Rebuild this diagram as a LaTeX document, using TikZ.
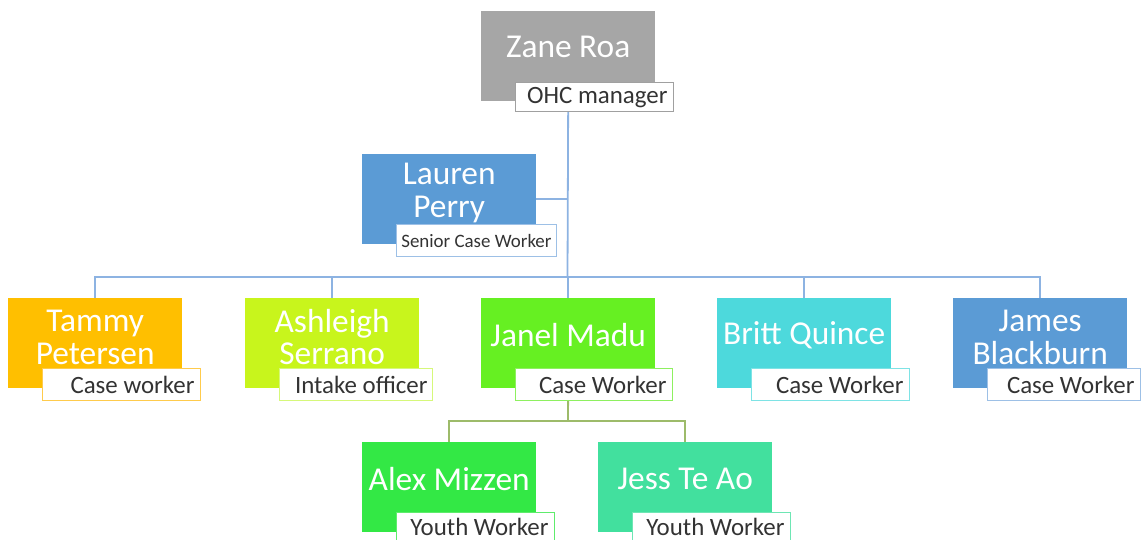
\documentclass[tikz,border=0pt]{standalone}
\usepackage{fontspec}
\setmainfont{Carlito}
\usetikzlibrary{calc,backgrounds}
\definecolor{cZane}{HTML}{A6A6A6}
\definecolor{cZaneB}{HTML}{A0A0A0}
\definecolor{cBlue}{HTML}{5B9BD5}
\definecolor{cBlueB}{HTML}{9DC0E6}
\definecolor{cTammy}{HTML}{FFBF00}
\definecolor{cTammyB}{HTML}{FFCB4C}
\definecolor{cAsh}{HTML}{C8F51C}
\definecolor{cAshB}{HTML}{D6F87A}
\definecolor{cJanel}{HTML}{66F022}
\definecolor{cJanelB}{HTML}{8EF060}
\definecolor{cBritt}{HTML}{4DD9DC}
\definecolor{cBrittB}{HTML}{7EE3E5}
\definecolor{cAlex}{HTML}{33E845}
\definecolor{cAlexB}{HTML}{5EEC6C}
\definecolor{cJess}{HTML}{42E09E}
\definecolor{cJessB}{HTML}{6EE6B4}
\definecolor{cText}{HTML}{333333}
\definecolor{cLine}{HTML}{8DB3E2}
\definecolor{cSub}{HTML}{9DBB6A}
\def\lblw{146bp}
\tikzset{
  lblw/.store in=\lblw,
  pbox/.style={rectangle, anchor=north west, minimum width=174bp, minimum height=90bp, inner sep=0pt, draw=none},
  pname/.style={text=white, font=\fontsize{33.5}{33}\selectfont, align=center, inner sep=0pt},
  plabel/.style={rectangle, anchor=north west, fill=white, line width=1bp, lblw=146bp, inner xsep=6bp, inner ysep=0pt, minimum height=32bp, text=cText, font=\fontsize{25}{25}\selectfont},
  conn/.style={draw=cLine, line width=1.8bp},
  subconn/.style={draw=cSub, line width=1.8bp},
}
\newcommand{\orgperson}[9]{%
  \node[pbox, fill=#4] (#1) at (#2,#3) {};
  \node[pname, #9] (#1n) at ($(#1.north)+(0,37)$) {#6};
  \node[plabel, draw=#5, #8] (#1r) at ($(#1.south west)+(34,-20)$) {\makebox[\lblw][r]{#7}};
}
\begin{document}
\begin{tikzpicture}[x=1bp,y=-1bp]
\useasboundingbox (0,0) rectangle (1141,540);
\clip (0,0) rectangle (1141,540);
\orgperson{zane}{481}{11}{cZane}{cZaneB}{Zane Roa}{OHC manager}{minimum height=29bp, yshift=-1bp}{yshift=1bp}
\orgperson{lauren}{362}{154}{cBlue}{cBlueB}{Lauren\\Perry}{Senior Case Worker}{lblw=150bp, inner xsep=5bp, font=\fontsize{19}{19}\selectfont}{yshift=-2bp}
\orgperson{tammy}{8}{298}{cTammy}{cTammyB}{Tammy\\Petersen}{Case worker}{}{yshift=-2bp}
\orgperson{ash}{245}{298}{cAsh}{cAshB}{Ashleigh\\Serrano}{Intake officer}{lblw=143bp, inner xsep=5bp}{yshift=-2bp}
\orgperson{janel}{481}{298}{cJanel}{cJanelB}{Janel Madu}{Case Worker}{lblw=145bp}{}
\orgperson{britt}{717}{298}{cBritt}{cBrittB}{Britt Quince}{Case Worker}{}{}
\orgperson{james}{953}{298}{cBlue}{cBlueB}{James\\Blackburn}{Case Worker}{lblw=141bp}{yshift=-2bp}
\orgperson{alex}{362}{442}{cAlex}{cAlexB}{Alex Mizzen}{Youth Worker}{minimum height=28bp, text depth=0pt}{}
\orgperson{jess}{598}{442}{cJess}{cJessB}{Jess Te Ao}{Youth Worker}{minimum height=28bp, text depth=0pt}{}
\coordinate (bar) at (567.5,277);
\coordinate (sub) at (568,421);
\begin{scope}[on background layer]
  \draw[conn] (zane.south) -- (bar);
  \draw[conn] (lauren.east) -- (lauren.east -| zane.south);
  \draw[conn] (tammy.north) -- (tammy.north |- bar) -- (james.north |- bar) -- (james.north);
  \draw[conn] (ash.north) -- (ash.north |- bar);
  \draw[conn] (janel.north) -- (janel.north |- bar);
  \draw[conn] (britt.north) -- (britt.north |- bar);
  \draw[subconn] (janel.south) -- (sub);
  \draw[subconn] (alex.north) -- (alex.north |- sub) -- (jess.north |- sub) -- (jess.north);
\end{scope}
\end{tikzpicture}
\end{document}
